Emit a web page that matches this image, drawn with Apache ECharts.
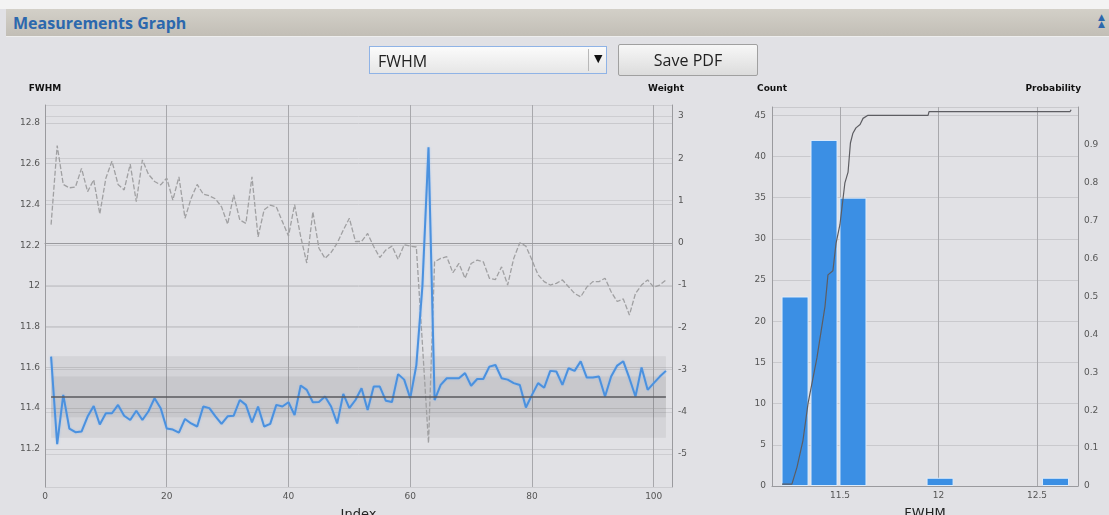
<!DOCTYPE html>
<html>
<head>
<meta charset="utf-8">
<script src="https://cdn.jsdelivr.net/npm/echarts@6/dist/echarts.min.js"></script>
<style>
html,body{margin:0;padding:0;background:#e1e1e5;width:1109px;height:515px;overflow:hidden;font-family:"DejaVu Sans",sans-serif;}
#top{position:absolute;left:0;top:0;width:1109px;height:9px;background:#f3f3f3;}
#hdr{position:absolute;left:6px;top:9px;width:1103px;height:27px;background:linear-gradient(#d3d0c8,#c2beb6);border-bottom:1px solid #eeeeee;}
#hdr span{position:absolute;left:7px;top:3px;font:bold 16px "Open Sans",sans-serif;color:#2c68ad;}
#icon{position:absolute;right:4px;top:5px;color:#2c68ad;font-size:9px;line-height:7px;text-align:center;}
#chart{position:absolute;left:0;top:0;width:1109px;height:515px;}
#sel{position:absolute;left:369px;top:46px;width:238px;height:28px;border:1px solid #8fb3e6;background:linear-gradient(#fbfbfb,#e6e6e6);box-sizing:border-box;}
#sel .t{position:absolute;left:8px;top:3px;font:16px "Open Sans",sans-serif;color:#222;}
#sel .d{position:absolute;left:218px;top:2px;width:1px;height:22px;background:#b8b8b8;}
#sel .a{position:absolute;left:224px;top:5px;font-size:11px;color:#111;}
#btn{position:absolute;left:618px;top:44px;width:140px;height:32px;border:1px solid #a0a0a0;border-radius:2px;background:linear-gradient(#f7f7f7,#dcdcdc);box-sizing:border-box;text-align:center;font:16px "Open Sans",sans-serif;line-height:30px;color:#222;}
</style>
</head>
<body>
<div id="chart"></div>
<div id="top"></div>
<div id="hdr"><span>Measurements Graph</span><div id="icon">▲<br>▲</div></div>
<div id="sel"><div class="t">FWHM</div><div class="d"></div><div class="a">▼</div></div>
<div id="btn">Save PDF</div>
<script>
// ---- data ----
var fwhmValues = [11.653,11.223,11.465,11.30,11.282,11.285,11.359,11.41,11.32,11.375,
 11.375,11.416,11.363,11.342,11.387,11.342,11.385,11.449,11.40,11.30,
 11.295,11.28,11.347,11.325,11.31,11.408,11.40,11.36,11.323,11.36,
 11.363,11.44,11.416,11.33,11.408,11.31,11.323,11.416,11.408,11.429,
 11.366,11.511,11.49,11.429,11.43,11.457,11.408,11.325,11.47,11.40,
 11.44,11.498,11.391,11.506,11.506,11.436,11.43,11.567,11.54,11.449,
 11.61,12.0,12.68,11.44,11.514,11.547,11.547,11.547,11.572,11.51,
 11.543,11.543,11.604,11.612,11.547,11.54,11.523,11.514,11.403,11.465,
 11.523,11.50,11.583,11.58,11.514,11.596,11.583,11.63,11.55,11.55,
 11.555,11.457,11.555,11.609,11.63,11.547,11.457,11.60,11.49,11.523,
 11.555,11.583];
var weightValues = [0.43,2.3,1.38,1.30,1.32,1.76,1.21,1.49,0.68,1.53,
 1.93,1.38,1.25,1.86,0.97,1.96,1.62,1.45,1.37,1.53,
 1.01,1.56,0.58,1.05,1.38,1.15,1.11,1.04,0.85,0.44,
 1.13,0.54,0.46,1.56,0.14,0.78,0.89,0.85,0.50,0.16,
 0.9,0.15,-0.48,0.73,-0.13,-0.37,-0.23,-0.01,0.30,0.58,
 0.03,0.03,0.22,-0.09,-0.35,-0.17,-0.08,-0.39,-0.05,-0.08,
 -0.1,-2.4,-4.74,-0.45,-0.37,-0.33,-0.71,-0.49,-0.84,-0.49,
 -0.41,-0.45,-0.84,-0.87,-0.57,-1.0,-0.37,0.0,-0.08,-0.41,
 -0.76,-0.92,-1.0,-0.96,-0.88,-1.04,-1.2,-1.28,-1.05,-0.92,
 -0.92,-0.84,-1.16,-1.39,-1.33,-1.71,-1.2,-1.0,-0.88,-1.05,
 -1.0,-0.88];
var meanValue = 11.455;
var bandOuter = [11.255, 11.655];
var bandInner = [11.355, 11.555];
var histCenters = [11.272, 11.419, 11.566, 12.008, 12.594];
var histCounts = [23, 42, 35, 1, 1];
var cdfX = [11.206,11.256,11.282,11.312,11.338,11.383,11.424,11.439,11.464,11.48,11.5,11.525,11.541,11.553,11.565,11.581,11.602,11.617,11.642,11.947,11.952,12.668,12.673];
var cdfP = [0.005,0.005,0.05,0.12,0.218,0.338,0.474,0.557,0.568,0.64,0.69,0.8,0.828,0.905,0.93,0.945,0.954,0.97,0.978,0.978,0.988,0.988,0.993];

var idx = fwhmValues.map(function(v,i){return i+1;});
var lbl = {color:'#555', fontSize:9, fontFamily:'DejaVu Sans'};
var nameSt = {color:'#111', fontSize:9, fontWeight:'bold', fontFamily:'DejaVu Sans'};

var chart = echarts.init(document.getElementById('chart'), null, {renderer:'canvas'});
chart.setOption({
  animation:false,
  backgroundColor:'#e1e1e5',
  grid:[
    {left:45, top:105, width:627, height:382, containLabel:false, outerBoundsMode:'none'},
    {left:772, top:107, width:306, height:379, containLabel:false, outerBoundsMode:'none'}
  ],
  xAxis:[
    {type:'value', gridIndex:0, min:0, max:103, splitNumber:5,
     name:'Index', nameLocation:'middle', nameGap:21, nameTextStyle:{color:'#222', fontSize:13, fontFamily:'DejaVu Sans'},
     axisLine:{show:true, lineStyle:{color:'#9a9a9e'}}, axisTick:{show:false},
     axisLabel:Object.assign({margin:5, showMaxLabel:false}, lbl),
     splitLine:{show:true, lineStyle:{color:'#a8a8ac', width:1}}},
    {type:'value', gridIndex:1, min:11.155, max:12.708, splitNumber:3,
     name:'FWHM', nameLocation:'middle', nameGap:21, nameTextStyle:{color:'#222', fontSize:13, fontFamily:'DejaVu Sans'},
     axisLine:{show:true, lineStyle:{color:'#9a9a9e'}}, axisTick:{show:false},
     axisLabel:Object.assign({margin:5, showMinLabel:false, showMaxLabel:false}, lbl),
     splitLine:{show:true, lineStyle:{color:'#a8a8ac', width:1}}}
  ],
  yAxis:[
    {type:'value', gridIndex:0, position:'left', min:11.013, max:12.888, splitNumber:9,
     name:'FWHM', nameLocation:'end', nameGap:12, nameTextStyle:nameSt,
     axisLine:{show:true, lineStyle:{color:'#9a9a9e'}}, axisTick:{show:false},
     axisLabel:Object.assign({margin:5, showMinLabel:false, showMaxLabel:false}, lbl),
     splitLine:{show:true, lineStyle:{color:'#c9c9cd'}}},
    {type:'value', gridIndex:0, position:'right', min:-5.78, max:3.26, splitNumber:9,
     name:'Weight', nameLocation:'end', nameGap:12, nameTextStyle:Object.assign({align:'right', padding:[0,-12,0,0]}, nameSt),
     axisLine:{show:true, lineStyle:{color:'#9a9a9e'}}, axisTick:{show:false},
     axisLabel:Object.assign({margin:6, showMinLabel:false, showMaxLabel:false}, lbl),
     splitLine:{show:true, lineStyle:{color:'#cdcdd1'}}},
    {type:'value', gridIndex:1, position:'left', min:0, max:46, splitNumber:9,
     name:'Count', nameLocation:'end', nameGap:14, nameTextStyle:nameSt,
     axisLine:{show:true, lineStyle:{color:'#9a9a9e'}}, axisTick:{show:false},
     axisLabel:Object.assign({margin:6, showMaxLabel:false}, lbl),
     splitLine:{show:true, lineStyle:{color:'#c9c9cd'}}},
    {type:'value', gridIndex:1, position:'right', min:0, max:1, splitNumber:10,
     name:'Probability', nameLocation:'end', nameGap:14, nameTextStyle:Object.assign({align:'right', padding:[0,-3,0,0]}, nameSt),
     axisLine:{show:true, lineStyle:{color:'#9a9a9e'}}, axisTick:{show:false},
     axisLabel:Object.assign({margin:6, showMaxLabel:false}, lbl),
     splitLine:{show:false}}
  ],
  series:[
    {type:'line', xAxisIndex:0, yAxisIndex:1, symbol:'none', z:3,
     data:idx.map(function(x,i){return [x, weightValues[i]];}),
     lineStyle:{color:'#a0a0a2', width:1.3, type:[5,2]}},
    {type:'line', xAxisIndex:0, yAxisIndex:0, symbol:'none', z:4,
     data:idx.map(function(x,i){return [x, fwhmValues[i]];}),
     lineStyle:{color:'#4b91de', width:2, shadowColor:'rgba(120,180,255,0.6)', shadowBlur:2},
     markArea:{silent:true, itemStyle:{color:'rgba(60,60,70,0.08)'},
       data:[
         [{xAxis:idx[0], yAxis:bandOuter[0]}, {xAxis:idx[idx.length-1], yAxis:bandOuter[1]}],
         [{xAxis:idx[0], yAxis:bandInner[0]}, {xAxis:idx[idx.length-1], yAxis:bandInner[1]}]
       ]},
     markLine:{silent:true, symbol:'none', label:{show:false},
       lineStyle:{color:'#5a5a5e', width:1.5, type:'solid'},
       data:[[{coord:[idx[0], meanValue]}, {coord:[idx[idx.length-1], meanValue]}]]}},
    {type:'bar', xAxisIndex:1, yAxisIndex:2, barWidth:27,
     data:histCenters.map(function(c,i){return [c, histCounts[i]];}),
     itemStyle:{color:'#3b8fe4', borderColor:'rgba(225,238,252,0.95)', borderWidth:1}},
    {type:'line', xAxisIndex:1, yAxisIndex:3, symbol:'none', z:5,
     data:cdfX.map(function(x,i){return [x, cdfP[i]];}),
     lineStyle:{color:'#5d5d62', width:1.2}}
  ]
});
</script>
</body>
</html>
